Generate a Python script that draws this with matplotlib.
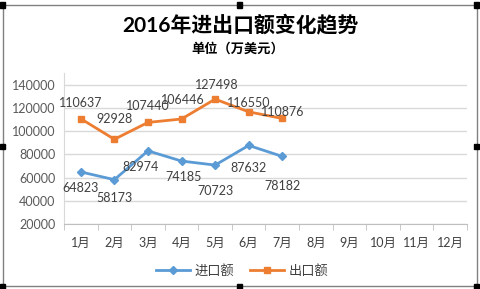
import matplotlib
matplotlib.use('Agg')
import matplotlib.pyplot as plt
from matplotlib.patches import Rectangle
from matplotlib.lines import Line2D

plt.rcParams['font.family'] = ['Lato', 'Noto Sans CJK SC', 'DejaVu Sans']

# datos
meses = ['1月', '2月', '3月', '4月', '5月', '6月', '7月', '8月', '9月', '10月', '11月', '12月']
importacion = [64823, 58173, 82974, 74185, 70723, 87632, 78182]
exportacion = [110637, 92928, 107440, 110400, 127498, 116550, 110876]
etiquetas_exp = ['110637', '92928', '107440', '106446', '127498', '116550', '110876']
yticks = [20000, 40000, 60000, 80000, 100000, 120000, 140000]

# desplazamiento de etiquetas (pixeles)
off_imp = [(0, -16), (0, -18), (-7, -16), (2, -16), (0, -26), (0, -23), (0, -30)]
off_exp = [(0, 16), (0, 20), (0, 16), (1, 19), (2, 14), (0, 9), (0, 6)]

azul = '#5B9BD5'
naranja = '#ED7D31'

W, H = 481, 289
fig = plt.figure(figsize=(W / 100, H / 100), dpi=100)
ax = fig.add_axes([64 / W, 1 - 224 / H, 403 / W, 151 / H])

x = list(range(1, len(importacion) + 1))
ax.plot(x, importacion, color=azul, lw=2, marker='D', ms=4.5, zorder=3)
ax.plot(x, exportacion, color=naranja, lw=2, marker='s', ms=5, zorder=3)

for xi, v, (dx, dy) in zip(x, importacion, off_imp):
    ax.annotate(str(v), (xi, v), xytext=(dx, dy), textcoords='offset pixels',
                ha='center', va='center', fontsize=9, color='#404040')
for xi, v, t, (dx, dy) in zip(x, exportacion, etiquetas_exp, off_exp):
    ax.annotate(t, (xi, v), xytext=(dx, dy), textcoords='offset pixels',
                ha='center', va='center', fontsize=9, color='#404040')

ax.set_xlim(0.5, 12.5)
ax.set_ylim(20000, 150000)
ax.set_yticks(yticks)
ax.set_yticklabels([str(t) for t in yticks], fontsize=9, color='#595959')
ax.set_xticks(range(1, 13))
ax.set_xticklabels(meses, fontsize=9, color='#404040')
ax.set_xticks([i + 0.5 for i in range(0, 13)], minor=True)
ax.tick_params(axis='x', which='major', length=0, pad=9)
ax.tick_params(axis='x', which='minor', length=4, color='#bfbfbf', direction='out')
ax.tick_params(axis='y', length=0, pad=6)
ax.grid(axis='y', color='#d9d9d9', lw=1)
ax.set_axisbelow(True)
for s in ['top', 'right']:
    ax.spines[s].set_visible(False)
ax.spines['left'].set_color('#d9d9d9')
ax.spines['bottom'].set_color('#bfbfbf')

fig.text(240 / W, 1 - 25 / H, '2016年进出口额变化趋势', ha='center', va='center',
         fontsize=15, fontweight='bold', color='black')
fig.text(238 / W, 1 - 48 / H, '单位（万美元）', ha='center', va='center',
         fontsize=9.5, fontweight='bold', color='black')

handles = [Line2D([], [], color=azul, lw=2, marker='D', ms=4),
           Line2D([], [], color=naranja, lw=2, marker='s', ms=4.5)]
fig.legend(handles, ['进口额', '出口额'], loc='center', ncol=2, frameon=False,
           bbox_to_anchor=(242 / W, 1 - 270 / H), fontsize=9.5, handlelength=2.6,
           columnspacing=1.2, handletextpad=0.3, labelcolor='#404040')

# marco y manejadores
fig.add_artist(Rectangle((2.5 / W, 1 - 286 / H), 474.5 / W, 281 / H, fill=False,
                         edgecolor='#808080', lw=1, transform=fig.transFigure))
for px in [2.5, 240, 477]:
    for py in [5, 146.5, 286]:
        if px == 240 and py == 146.5:
            continue
        fig.add_artist(Rectangle(((px - 2.5) / W, 1 - (py + 2.5) / H), 5 / W, 5 / H,
                                 color='black', transform=fig.transFigure))

fig.savefig('out.png', dpi=100)
